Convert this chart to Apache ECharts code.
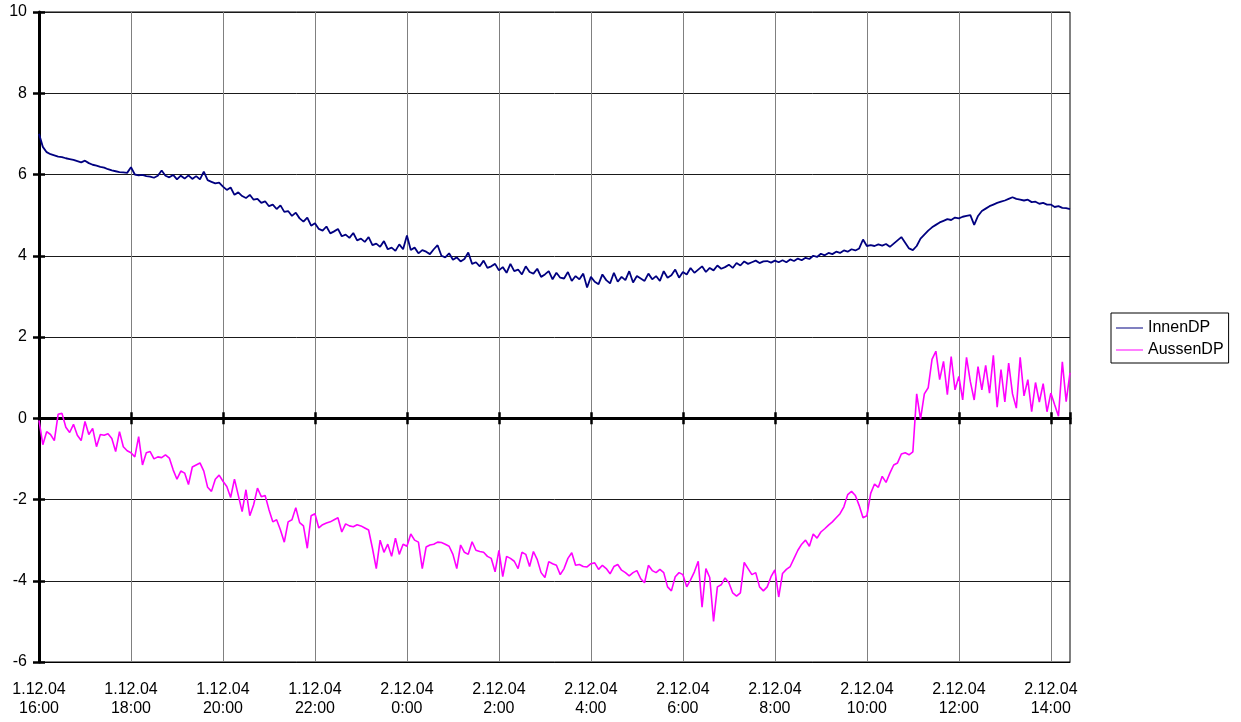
<!DOCTYPE html>
<html>
<head>
<meta charset="utf-8">
<script src="https://cdn.jsdelivr.net/npm/echarts@6/dist/echarts.min.js"></script>
<style>
html,body{margin:0;padding:0;background:#fff;}
#chart{width:1241px;height:722px;}
</style>
</head>
<body>
<div id="chart"></div>
<script>
// Sampling: one reading every 5 minutes, starting 1.12.04 16:00 (hours since start)
var sampleStepHours = 5 / 60;

var xTickLabels = [
  '1.12.04\n16:00', '1.12.04\n18:00', '1.12.04\n20:00', '1.12.04\n22:00',
  '2.12.04\n0:00', '2.12.04\n2:00', '2.12.04\n4:00', '2.12.04\n6:00',
  '2.12.04\n8:00', '2.12.04\n10:00', '2.12.04\n12:00', '2.12.04\n14:00'
];

var seriesNames = ['InnenDP', 'AussenDP'];

var innenDP = [
  7.00,6.68,6.55,6.50,6.47,6.44,6.43,6.40,6.38,6.36,
  6.33,6.30,6.34,6.28,6.24,6.22,6.19,6.17,6.13,6.10,
  6.08,6.06,6.05,6.04,6.18,6.00,5.98,5.99,5.96,5.95,
  5.92,5.97,6.10,5.97,5.93,5.99,5.88,5.97,5.90,5.98,
  5.89,5.96,5.88,6.07,5.86,5.82,5.78,5.80,5.70,5.62,
  5.68,5.50,5.56,5.47,5.42,5.50,5.38,5.40,5.30,5.34,
  5.22,5.26,5.15,5.24,5.08,5.10,4.98,5.06,4.92,4.84,
  4.94,4.74,4.80,4.66,4.62,4.72,4.55,4.60,4.66,4.48,
  4.52,4.44,4.56,4.38,4.42,4.34,4.46,4.26,4.30,4.22,
  4.36,4.16,4.20,4.12,4.28,4.16,4.50,4.14,4.20,4.06,
  4.14,4.10,4.04,4.16,4.26,4.00,3.96,4.06,3.90,3.96,
  3.86,3.92,4.08,3.80,3.84,3.74,3.88,3.70,3.74,3.80,
  3.64,3.72,3.58,3.80,3.62,3.66,3.54,3.74,3.60,3.56,
  3.68,3.48,3.54,3.62,3.42,3.58,3.46,3.44,3.60,3.38,
  3.50,3.42,3.56,3.22,3.48,3.36,3.30,3.54,3.40,3.32,
  3.58,3.36,3.48,3.40,3.62,3.34,3.50,3.44,3.38,3.56,
  3.42,3.50,3.38,3.62,3.46,3.52,3.66,3.46,3.60,3.54,
  3.70,3.58,3.66,3.74,3.60,3.70,3.64,3.76,3.68,3.72,
  3.78,3.70,3.82,3.76,3.86,3.80,3.84,3.88,3.82,3.86,
  3.87,3.83,3.88,3.84,3.89,3.84,3.91,3.87,3.93,3.89,
  3.95,3.92,4.00,3.97,4.05,4.01,4.07,4.04,4.10,4.07,
  4.13,4.10,4.16,4.13,4.18,4.40,4.24,4.26,4.24,4.28,
  4.25,4.29,4.22,4.30,4.38,4.46,4.32,4.18,4.14,4.24,
  4.42,4.52,4.62,4.70,4.76,4.82,4.86,4.90,4.88,4.94,
  4.92,4.96,4.98,5.00,4.76,4.98,5.10,5.16,5.22,5.26,
  5.30,5.33,5.36,5.40,5.44,5.40,5.38,5.36,5.38,5.32,
  5.33,5.28,5.30,5.26,5.26,5.20,5.22,5.18,5.17,5.15
];

var aussenDP = [
  -0.05,-0.65,-0.33,-0.40,-0.55,0.10,0.12,-0.22,-0.35,-0.15,
  -0.42,-0.55,-0.08,-0.40,-0.25,-0.70,-0.40,-0.42,-0.38,-0.50,
  -0.82,-0.33,-0.70,-0.80,-0.85,-0.95,-0.45,-1.15,-0.85,-0.82,
  -1.00,-0.95,-0.97,-0.90,-0.98,-1.27,-1.50,-1.30,-1.35,-1.63,
  -1.20,-1.15,-1.10,-1.30,-1.70,-1.80,-1.50,-1.40,-1.55,-1.68,
  -1.95,-1.50,-1.90,-2.30,-1.76,-2.40,-2.13,-1.72,-1.93,-1.90,
  -2.25,-2.55,-2.50,-2.75,-3.05,-2.55,-2.50,-2.20,-2.57,-2.65,
  -3.20,-2.40,-2.35,-2.70,-2.62,-2.58,-2.55,-2.50,-2.45,-2.80,
  -2.60,-2.65,-2.67,-2.62,-2.65,-2.70,-2.75,-3.20,-3.70,-3.00,
  -3.30,-3.10,-3.40,-2.95,-3.35,-3.10,-3.15,-2.85,-3.00,-3.05,
  -3.70,-3.17,-3.12,-3.10,-3.05,-3.06,-3.10,-3.15,-3.35,-3.70,
  -3.12,-3.30,-3.35,-3.04,-3.25,-3.28,-3.30,-3.40,-3.45,-3.78,
  -3.25,-3.90,-3.40,-3.45,-3.52,-3.70,-3.30,-3.35,-3.65,-3.28,
  -3.48,-3.80,-3.92,-3.53,-3.58,-3.62,-3.85,-3.70,-3.45,-3.31,
  -3.62,-3.60,-3.65,-3.66,-3.58,-3.56,-3.72,-3.62,-3.70,-3.83,
  -3.65,-3.60,-3.74,-3.80,-3.88,-3.80,-3.75,-3.95,-4.05,-3.62,
  -3.75,-3.80,-3.72,-3.80,-4.15,-4.25,-3.90,-3.80,-3.85,-4.15,
  -3.98,-3.78,-3.52,-4.65,-3.70,-3.92,-5.00,-4.15,-4.10,-3.93,
  -4.05,-4.30,-4.38,-4.30,-3.55,-3.70,-3.85,-3.80,-4.15,-4.25,
  -4.15,-3.90,-3.73,-4.40,-3.82,-3.72,-3.65,-3.45,-3.25,-3.10,
  -3.00,-3.15,-2.85,-2.95,-2.80,-2.72,-2.63,-2.55,-2.45,-2.35,
  -2.18,-1.88,-1.80,-1.90,-2.15,-2.45,-2.40,-1.85,-1.62,-1.70,
  -1.43,-1.58,-1.35,-1.15,-1.10,-0.88,-0.85,-0.90,-0.83,0.60,
  -0.02,0.60,0.75,1.45,1.65,0.95,1.40,0.58,1.52,0.70,
  1.03,0.45,1.50,0.90,0.45,1.27,0.70,1.30,0.62,1.55,
  0.27,1.20,0.40,1.36,0.60,0.25,1.50,0.55,0.95,0.16,
  0.88,0.40,0.85,0.16,0.62,0.33,0.05,1.39,0.41,1.12
];

var yMin = -6, yMax = 10, yStep = 2;
var xStepHours = 2;

function toPairs(arr) {
  return arr.map(function (v, i) { return [i * sampleStepHours, v]; });
}
var xMaxHours = (innenDP.length - 1) * sampleStepHours;

var FONT = 'Liberation Sans, Arial, sans-serif';
var chart = echarts.init(document.getElementById('chart'), null, {renderer: 'canvas'});

function xLabel(v) {
  var k = Math.round(v / xStepHours);
  if (Math.abs(v - k * xStepHours) < 1e-6 && xTickLabels[k] !== undefined) return xTickLabels[k];
  return '';
}

var baseX = {type: 'value', min: 0, max: xMaxHours, interval: xStepHours, position: 'bottom'};

chart.setOption({
  animation: false,
  backgroundColor: '#ffffff',
  grid: {left: 39, right: 171, top: 12, bottom: 60, show: true, borderColor: '#000', borderWidth: 1, backgroundColor: 'transparent'},
  legend: {
    data: seriesNames,
    orient: 'vertical',
    left: 1111, top: 313,
    padding: [6, 5, 4, 5],
    itemGap: 4,
    itemWidth: 27, itemHeight: 1,
    icon: 'rect',
    borderColor: '#000', borderWidth: 1,
    textStyle: {fontFamily: FONT, fontSize: 16, color: '#000', lineHeight: 18}
  },
  xAxis: [
    Object.assign({}, baseX, {
      axisLine: {show: true, onZero: false, lineStyle: {color: '#000', width: 1}},
      axisTick: {show: false},
      axisLabel: {show: true, formatter: xLabel, margin: 18, fontFamily: FONT, fontSize: 16, color: '#000', lineHeight: 19, showMaxLabel: true, hideOverlap: false},
      splitLine: {show: true, lineStyle: {color: '#808080', width: 1}}
    }),
    Object.assign({}, baseX, {
      axisLine: {show: true, onZero: true, onZeroAxisIndex: 0, lineStyle: {color: '#000', width: 3}},
      axisTick: {show: true, inside: false, length: 6, lineStyle: {color: '#000', width: 2.5}},
      axisLabel: {show: false},
      splitLine: {show: false}
    }),
    Object.assign({}, baseX, {
      axisLine: {show: true, onZero: true, onZeroAxisIndex: 0, lineStyle: {color: 'rgba(0,0,0,0)', width: 0}},
      axisTick: {show: true, inside: true, length: 6, lineStyle: {color: '#000', width: 2.5}},
      axisLabel: {show: false},
      splitLine: {show: false}
    })
  ],
  yAxis: [
    {
      type: 'value', min: yMin, max: yMax, interval: yStep, position: 'left',
      axisLine: {show: true, onZero: false, lineStyle: {color: '#000', width: 3}},
      axisTick: {show: true, inside: false, length: 6, lineStyle: {color: '#000', width: 2.5}},
      axisLabel: {margin: 12, fontFamily: FONT, fontSize: 16, color: '#000'},
      splitLine: {show: true, lineStyle: {color: '#1a1a1a', width: 1}}
    },
    {
      type: 'value', min: yMin, max: yMax, interval: yStep, position: 'left',
      axisLine: {show: false, onZero: false},
      axisTick: {show: true, inside: true, length: 6, lineStyle: {color: '#000', width: 2.5}},
      axisLabel: {show: false},
      splitLine: {show: false}
    }
  ],
  series: [
    {
      name: seriesNames[0], type: 'line', xAxisIndex: 0, yAxisIndex: 0,
      data: toPairs(innenDP), symbol: 'none', showSymbol: false,
      lineStyle: {color: '#000080', width: 1.8}, itemStyle: {color: '#000080'}, z: 3
    },
    {
      name: seriesNames[1], type: 'line', xAxisIndex: 0, yAxisIndex: 0,
      data: toPairs(aussenDP), symbol: 'none', showSymbol: false,
      lineStyle: {color: '#ff00ff', width: 1.6}, itemStyle: {color: '#ff00ff'}, z: 3
    }
  ]
});
</script>
</body>
</html>
